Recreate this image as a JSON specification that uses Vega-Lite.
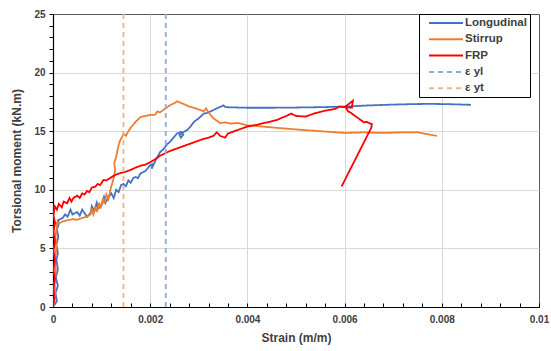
{
  "$schema": "https://vega.github.io/schema/vega-lite/v6.json",
  "width": 486,
  "height": 293,
  "autosize": {"type": "none"},
  "padding": {"left": 53, "top": 14, "right": 12, "bottom": 44},
  "background": "white",
  "config": {
    "view": {"stroke": "#595959", "strokeWidth": 1},
    "font": "Liberation Sans"
  },
  "datasets": {
    "curves": [
      {"s":"Longudinal","x":0,"y":0},{"s":"Longudinal","x":0.00008,"y":0.5},{"s":"Longudinal","x":0.00005,"y":1.2},{"s":"Longudinal","x":0.0001,"y":1.8},{"s":"Longudinal","x":0.00006,"y":2.5},{"s":"Longudinal","x":0.0001,"y":3.2},{"s":"Longudinal","x":0.00007,"y":4},{"s":"Longudinal","x":0.0001,"y":4.6},{"s":"Longudinal","x":0.00007,"y":5.3},{"s":"Longudinal","x":0.00011,"y":6},{"s":"Longudinal","x":0.00008,"y":6.6},{"s":"Longudinal","x":0.00012,"y":7.1},{"s":"Longudinal","x":0.0001,"y":7.4},{"s":"Longudinal","x":0.0002,"y":7.6},{"s":"Longudinal","x":0.00025,"y":7.9},{"s":"Longudinal","x":0.0003,"y":7.7},{"s":"Longudinal","x":0.00036,"y":8.3},{"s":"Longudinal","x":0.0004,"y":7.9},{"s":"Longudinal","x":0.0005,"y":8.1},{"s":"Longudinal","x":0.00055,"y":7.8},{"s":"Longudinal","x":0.0006,"y":8.3},{"s":"Longudinal","x":0.00065,"y":8.0},{"s":"Longudinal","x":0.0007,"y":7.7},{"s":"Longudinal","x":0.00077,"y":8.0},{"s":"Longudinal","x":0.0008,"y":8.6},{"s":"Longudinal","x":0.00085,"y":8.2},{"s":"Longudinal","x":0.0009,"y":8.9},{"s":"Longudinal","x":0.00093,"y":8.4},{"s":"Longudinal","x":0.001,"y":8.7},{"s":"Longudinal","x":0.00105,"y":9.4},{"s":"Longudinal","x":0.00108,"y":8.9},{"s":"Longudinal","x":0.00112,"y":9.2},{"s":"Longudinal","x":0.0012,"y":9.7},{"s":"Longudinal","x":0.00125,"y":9.3},{"s":"Longudinal","x":0.0013,"y":10.0},{"s":"Longudinal","x":0.00135,"y":9.8},{"s":"Longudinal","x":0.0014,"y":10.4},{"s":"Longudinal","x":0.00145,"y":10.5},{"s":"Longudinal","x":0.0015,"y":10.3},{"s":"Longudinal","x":0.00155,"y":10.8},{"s":"Longudinal","x":0.0016,"y":10.6},{"s":"Longudinal","x":0.00165,"y":11.0},{"s":"Longudinal","x":0.0017,"y":11.1},{"s":"Longudinal","x":0.00175,"y":11.0},{"s":"Longudinal","x":0.0018,"y":11.4},{"s":"Longudinal","x":0.0019,"y":11.6},{"s":"Longudinal","x":0.002,"y":12.1},{"s":"Longudinal","x":0.00205,"y":12.2},{"s":"Longudinal","x":0.00203,"y":11.8},{"s":"Longudinal","x":0.00212,"y":12.6},{"s":"Longudinal","x":0.0022,"y":13.2},{"s":"Longudinal","x":0.00228,"y":13.5},{"s":"Longudinal","x":0.00235,"y":13.9},{"s":"Longudinal","x":0.00241,"y":14.1},{"s":"Longudinal","x":0.00255,"y":14.8},{"s":"Longudinal","x":0.00264,"y":14.95},{"s":"Longudinal","x":0.00268,"y":14.7},{"s":"Longudinal","x":0.00263,"y":14.45},{"s":"Longudinal","x":0.0026,"y":14.7},{"s":"Longudinal","x":0.00276,"y":15.1},{"s":"Longudinal","x":0.00283,"y":15.4},{"s":"Longudinal","x":0.0029,"y":15.8},{"s":"Longudinal","x":0.003,"y":16.1},{"s":"Longudinal","x":0.0031,"y":16.5},{"s":"Longudinal","x":0.0032,"y":16.6},{"s":"Longudinal","x":0.00337,"y":16.95},{"s":"Longudinal","x":0.00351,"y":17.2},{"s":"Longudinal","x":0.00355,"y":17.05},{"s":"Longudinal","x":0.004,"y":17.0},{"s":"Longudinal","x":0.0045,"y":17.0},{"s":"Longudinal","x":0.005,"y":17.02},{"s":"Longudinal","x":0.0055,"y":17.05},{"s":"Longudinal","x":0.006,"y":17.1},{"s":"Longudinal","x":0.0065,"y":17.2},{"s":"Longudinal","x":0.007,"y":17.27},{"s":"Longudinal","x":0.0075,"y":17.32},{"s":"Longudinal","x":0.0078,"y":17.33},{"s":"Longudinal","x":0.0082,"y":17.3},{"s":"Longudinal","x":0.0086,"y":17.25},
      {"s":"Stirrup","x":0,"y":0},{"s":"Stirrup","x":0.00005,"y":1},{"s":"Stirrup","x":0.00003,"y":2},{"s":"Stirrup","x":0.00006,"y":3},{"s":"Stirrup","x":0.00004,"y":4},{"s":"Stirrup","x":0.00007,"y":5},{"s":"Stirrup","x":0.00005,"y":6},{"s":"Stirrup","x":0.00008,"y":6.8},{"s":"Stirrup","x":0.00006,"y":7.2},{"s":"Stirrup","x":0.0001,"y":7.1},{"s":"Stirrup","x":0.0002,"y":7.3},{"s":"Stirrup","x":0.0003,"y":7.4},{"s":"Stirrup","x":0.0004,"y":7.5},{"s":"Stirrup","x":0.0005,"y":7.45},{"s":"Stirrup","x":0.0006,"y":7.6},{"s":"Stirrup","x":0.0007,"y":7.7},{"s":"Stirrup","x":0.00077,"y":7.9},{"s":"Stirrup","x":0.0008,"y":8.4},{"s":"Stirrup","x":0.00083,"y":7.9},{"s":"Stirrup","x":0.00088,"y":8.6},{"s":"Stirrup","x":0.0009,"y":8.1},{"s":"Stirrup","x":0.00095,"y":8.9},{"s":"Stirrup","x":0.00098,"y":8.4},{"s":"Stirrup","x":0.00103,"y":9.3},{"s":"Stirrup","x":0.00106,"y":8.8},{"s":"Stirrup","x":0.0011,"y":9.6},{"s":"Stirrup","x":0.00114,"y":9.2},{"s":"Stirrup","x":0.00118,"y":10.0},{"s":"Stirrup","x":0.0012,"y":10.3},{"s":"Stirrup","x":0.00125,"y":11.0},{"s":"Stirrup","x":0.00128,"y":11.7},{"s":"Stirrup","x":0.00126,"y":12.3},{"s":"Stirrup","x":0.0013,"y":12.8},{"s":"Stirrup","x":0.00132,"y":13.2},{"s":"Stirrup","x":0.00135,"y":13.8},{"s":"Stirrup","x":0.00138,"y":14.2},{"s":"Stirrup","x":0.00142,"y":14.5},{"s":"Stirrup","x":0.00145,"y":14.8},{"s":"Stirrup","x":0.0015,"y":14.6},{"s":"Stirrup","x":0.00155,"y":15.0},{"s":"Stirrup","x":0.0016,"y":15.3},{"s":"Stirrup","x":0.0017,"y":15.8},{"s":"Stirrup","x":0.0018,"y":16.2},{"s":"Stirrup","x":0.0019,"y":16.3},{"s":"Stirrup","x":0.002,"y":16.4},{"s":"Stirrup","x":0.0021,"y":16.4},{"s":"Stirrup","x":0.00215,"y":16.7},{"s":"Stirrup","x":0.0022,"y":16.6},{"s":"Stirrup","x":0.0023,"y":16.9},{"s":"Stirrup","x":0.0024,"y":17.2},{"s":"Stirrup","x":0.0025,"y":17.4},{"s":"Stirrup","x":0.00255,"y":17.55},{"s":"Stirrup","x":0.0027,"y":17.3},{"s":"Stirrup","x":0.0028,"y":17.1},{"s":"Stirrup","x":0.0029,"y":17.0},{"s":"Stirrup","x":0.003,"y":16.85},{"s":"Stirrup","x":0.0031,"y":16.7},{"s":"Stirrup","x":0.00315,"y":16.95},{"s":"Stirrup","x":0.0032,"y":16.6},{"s":"Stirrup","x":0.0033,"y":16.1},{"s":"Stirrup","x":0.00344,"y":15.7},{"s":"Stirrup","x":0.00355,"y":15.75},{"s":"Stirrup","x":0.00365,"y":15.65},{"s":"Stirrup","x":0.0038,"y":15.7},{"s":"Stirrup","x":0.004,"y":15.5},{"s":"Stirrup","x":0.0043,"y":15.4},{"s":"Stirrup","x":0.0047,"y":15.25},{"s":"Stirrup","x":0.005,"y":15.15},{"s":"Stirrup","x":0.0055,"y":15.0},{"s":"Stirrup","x":0.006,"y":14.85},{"s":"Stirrup","x":0.0064,"y":14.9},{"s":"Stirrup","x":0.0068,"y":14.85},{"s":"Stirrup","x":0.0072,"y":14.9},{"s":"Stirrup","x":0.0075,"y":14.9},{"s":"Stirrup","x":0.0077,"y":14.75},{"s":"Stirrup","x":0.0079,"y":14.6},
      {"s":"FRP","x":0,"y":0},{"s":"FRP","x":0.00003,"y":0.8},{"s":"FRP","x":0.00001,"y":1.6},{"s":"FRP","x":0.00004,"y":2.4},{"s":"FRP","x":0.00001,"y":3.2},{"s":"FRP","x":0.00004,"y":4.0},{"s":"FRP","x":0.00001,"y":4.8},{"s":"FRP","x":0.00004,"y":5.6},{"s":"FRP","x":0.00001,"y":6.4},{"s":"FRP","x":0.00004,"y":7.2},{"s":"FRP","x":0.00001,"y":7.8},{"s":"FRP","x":0.00003,"y":8.4},{"s":"FRP","x":0.00002,"y":8.7},{"s":"FRP","x":0.00008,"y":8.3},{"s":"FRP","x":0.00012,"y":8.8},{"s":"FRP","x":0.00018,"y":8.5},{"s":"FRP","x":0.00022,"y":9.0},{"s":"FRP","x":0.00029,"y":8.85},{"s":"FRP","x":0.00034,"y":9.3},{"s":"FRP","x":0.00038,"y":9.0},{"s":"FRP","x":0.00042,"y":9.3},{"s":"FRP","x":0.0005,"y":9.5},{"s":"FRP","x":0.00055,"y":9.3},{"s":"FRP","x":0.0006,"y":9.7},{"s":"FRP","x":0.00065,"y":9.6},{"s":"FRP","x":0.0007,"y":9.9},{"s":"FRP","x":0.00075,"y":9.8},{"s":"FRP","x":0.0008,"y":10.2},{"s":"FRP","x":0.00087,"y":10.26},{"s":"FRP","x":0.00092,"y":10.5},{"s":"FRP","x":0.00097,"y":10.4},{"s":"FRP","x":0.00104,"y":10.84},{"s":"FRP","x":0.0011,"y":10.8},{"s":"FRP","x":0.00121,"y":11.1},{"s":"FRP","x":0.0013,"y":11.3},{"s":"FRP","x":0.0014,"y":11.45},{"s":"FRP","x":0.0015,"y":11.55},{"s":"FRP","x":0.0016,"y":11.7},{"s":"FRP","x":0.0017,"y":11.9},{"s":"FRP","x":0.0018,"y":12.05},{"s":"FRP","x":0.0019,"y":12.15},{"s":"FRP","x":0.002,"y":12.35},{"s":"FRP","x":0.0021,"y":12.6},{"s":"FRP","x":0.0022,"y":12.9},{"s":"FRP","x":0.0023,"y":13.1},{"s":"FRP","x":0.0024,"y":13.3},{"s":"FRP","x":0.0025,"y":13.45},{"s":"FRP","x":0.0026,"y":13.6},{"s":"FRP","x":0.0027,"y":13.75},{"s":"FRP","x":0.0028,"y":13.9},{"s":"FRP","x":0.0029,"y":14.05},{"s":"FRP","x":0.003,"y":14.2},{"s":"FRP","x":0.0031,"y":14.35},{"s":"FRP","x":0.0032,"y":14.45},{"s":"FRP","x":0.0033,"y":14.6},{"s":"FRP","x":0.00337,"y":14.9},{"s":"FRP","x":0.00344,"y":14.6},{"s":"FRP","x":0.00354,"y":14.45},{"s":"FRP","x":0.0036,"y":14.8},{"s":"FRP","x":0.0037,"y":14.95},{"s":"FRP","x":0.0038,"y":15.1},{"s":"FRP","x":0.0039,"y":15.25},{"s":"FRP","x":0.004,"y":15.4},{"s":"FRP","x":0.0042,"y":15.55},{"s":"FRP","x":0.0044,"y":15.75},{"s":"FRP","x":0.0046,"y":15.95},{"s":"FRP","x":0.0048,"y":16.3},{"s":"FRP","x":0.0049,"y":16.5},{"s":"FRP","x":0.005,"y":16.3},{"s":"FRP","x":0.0052,"y":16.25},{"s":"FRP","x":0.0054,"y":16.55},{"s":"FRP","x":0.0056,"y":16.75},{"s":"FRP","x":0.0058,"y":16.9},{"s":"FRP","x":0.0059,"y":17.1},{"s":"FRP","x":0.006,"y":17.05},{"s":"FRP","x":0.00617,"y":17.6},{"s":"FRP","x":0.00615,"y":17.0},{"s":"FRP","x":0.00602,"y":17.05},{"s":"FRP","x":0.00607,"y":16.7},{"s":"FRP","x":0.00612,"y":16.6},{"s":"FRP","x":0.00618,"y":16.4},{"s":"FRP","x":0.00625,"y":16.2},{"s":"FRP","x":0.0063,"y":16.05},{"s":"FRP","x":0.00635,"y":15.9},{"s":"FRP","x":0.0064,"y":15.75},{"s":"FRP","x":0.00645,"y":15.8},{"s":"FRP","x":0.0065,"y":15.7},{"s":"FRP","x":0.00656,"y":15.6},{"s":"FRP","x":0.00655,"y":15.3},{"s":"FRP","x":0.00594,"y":10.3}
    ],
    "eps": [
      {"s":"ε yl","x":0.00232,"y":0},{"s":"ε yl","x":0.00232,"y":25},
      {"s":"ε yt","x":0.00145,"y":0},{"s":"ε yt","x":0.00145,"y":25}
    ]
  },
  "encoding": {
    "x": {
      "field": "x", "type": "quantitative",
      "scale": {"domain": [0, 0.01], "nice": false, "zero": false},
      "axis": {
        "title": "Strain (m/m)",
        "values": [0,0.0004,0.0008,0.0012,0.0016,0.002,0.0024,0.0028,0.0032,0.0036,0.004,0.0044,0.0048,0.0052,0.0056,0.006,0.0064,0.0068,0.0072,0.0076,0.008,0.0084,0.0088,0.0092,0.0096,0.01],
        "labelExpr": "round(datum.value*10000) % 20 == 0 ? format(datum.value, '~g') : ''",
        "gridColor": "#D9D9D9",
        "gridOpacity": {"condition": {"test": "round(datum.value*10000) % 20 == 0 && datum.value > 0 && datum.value < 0.0099", "value": 1}, "value": 0},
        "domainColor": "#000000", "domainWidth": 1.2,
        "tickColor": "#000000", "tickSize": -4,
        "labelFont": "Liberation Sans", "labelFontWeight": "bold", "labelFontSize": 10, "labelColor": "#404040",
        "labelPadding": 11, "labelFlush": false, "labelOverlap": false,
        "titleFont": "Liberation Sans", "titleFontWeight": "bold", "titleFontSize": 12, "titleColor": "#404040",
        "titlePadding": 8
      }
    },
    "y": {
      "field": "y", "type": "quantitative",
      "scale": {"domain": [0, 25], "nice": false},
      "axis": {
        "title": "Torsional moment (kN.m)",
        "values": [0,1,2,3,4,5,6,7,8,9,10,11,12,13,14,15,16,17,18,19,20,21,22,23,24,25],
        "labelExpr": "datum.value % 5 == 0 ? datum.label : ''",
        "gridColor": "#D9D9D9",
        "gridOpacity": {"condition": {"test": "datum.value % 5 == 0 && datum.value > 0 && datum.value < 25", "value": 1}, "value": 0},
        "domainColor": "#000000", "domainWidth": 1.2,
        "tickColor": "#000000", "tickSize": 4,
        "labelFont": "Liberation Sans", "labelFontWeight": "bold", "labelFontSize": 10, "labelColor": "#404040",
        "labelPadding": 4, "labelFlush": false, "labelOverlap": false,
        "titleFont": "Liberation Sans", "titleFontWeight": "bold", "titleFontSize": 12, "titleColor": "#404040",
        "titlePadding": 10
      }
    },
    "color": {
      "field": "s", "type": "nominal",
      "scale": {"domain": ["Longudinal","Stirrup","FRP","ε yl","ε yt"], "range": ["#4472C4","#ED7D31","#FF0000","#8FAADC","#F4B183"]},
      "legend": {
        "title": null, "orient": "none", "legendX": 366, "legendY": 0,
        "strokeColor": "#000000", "fillColor": "#FFFFFF", "padding": 3,
        "symbolType": "M0.2,0H7", "symbolSize": 100, "symbolStrokeWidth": 2,
        "labelFont": "Liberation Sans", "labelFontWeight": "bold", "labelFontSize": 11.5, "labelColor": "#404040",
        "labelExpr": "datum.label + '\u00a0\u00a0\u00a0'",
        "labelOffset": 31, "rowPadding": 4.3
      }
    },
    "strokeDash": {
      "field": "s", "type": "nominal",
      "scale": {"domain": ["Longudinal","Stirrup","FRP","ε yl","ε yt"], "range": [[1,0],[1,0],[1,0],[5,4],[5,4]]},
      "legend": {
        "title": null, "orient": "none", "legendX": 366, "legendY": 0,
        "strokeColor": "#000000", "fillColor": "#FFFFFF", "padding": 3,
        "symbolType": "M0.2,0H7", "symbolSize": 100, "symbolStrokeWidth": 2,
        "labelFont": "Liberation Sans", "labelFontWeight": "bold", "labelFontSize": 11.5, "labelColor": "#404040",
        "labelExpr": "datum.label + '\u00a0\u00a0\u00a0'",
        "labelOffset": 31, "rowPadding": 4.3
      }
    },
    "order": {"value": null}
  },
  "layer": [
    {"data": {"name": "curves"}, "mark": {"type": "line", "strokeWidth": 1.8, "clip": true}},
    {"data": {"name": "eps"}, "mark": {"type": "line", "strokeWidth": 1.8, "clip": true}}
  ]
}
